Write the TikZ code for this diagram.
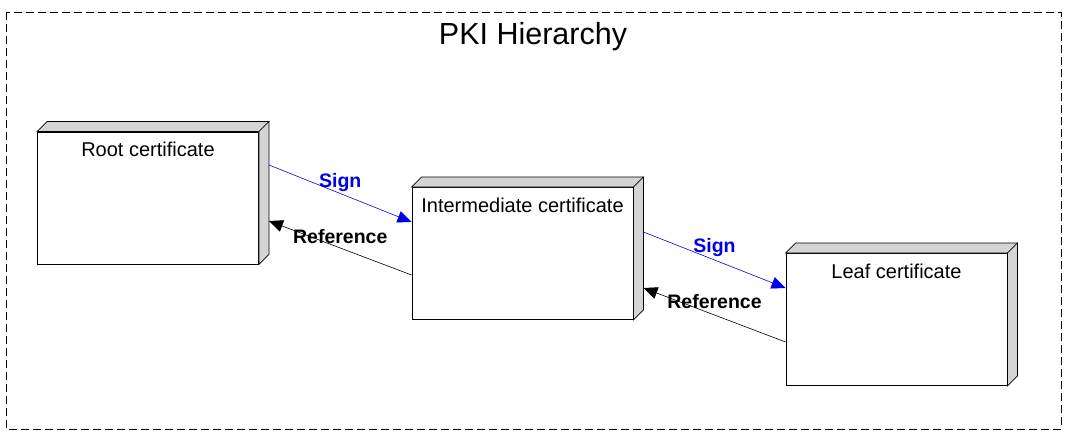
\documentclass[tikz,border=0pt]{standalone}
\usepackage{fontspec}
\setmainfont{Liberation Sans}
\usetikzlibrary{arrows.meta,calc}
\definecolor{sidegray}{RGB}{212,212,212}
\definecolor{signblue}{RGB}{0,0,230}

\begin{document}
\begin{tikzpicture}[x=1pt, y=-1pt,
    cert/.style={rectangle, draw, fill=white, line width=0.9pt, minimum width=221pt, minimum height=132pt, inner sep=0pt},
    face/.style={draw, fill=sidegray, line width=0.6pt},
    sign/.style={-{Triangle[length=14pt,width=12pt]}, signblue, line width=0.6pt},
    refer/.style={-{Triangle[length=14pt,width=12pt]}, black, line width=0.6pt},
    lbl/.style={font=\fontsize{19.5}{22}\selectfont\bfseries},
]
    \useasboundingbox (0,0) rectangle (1071,435);
    \draw[dash pattern=on 8pt off 4pt, line width=0.8pt] (6,12) rectangle (1061,429);
    \node[font=\fontsize{30.5}{36}\selectfont] (title) at (533,37) {PKI Hierarchy};

    % certificate boxes
    \node[cert, label={[anchor=north, yshift=-7pt, font=\fontsize{20}{24}\selectfont]north:Root certificate}] (root) at (148,198) {};
    \node[cert, label={[anchor=north, yshift=-7pt, font=\fontsize{20}{24}\selectfont]north:Intermediate certificate}] (inter) at (522.5,253.5) {};
    \node[cert, label={[anchor=north, yshift=-7pt, font=\fontsize{20}{24}\selectfont]north:Leaf certificate}] (leaf) at (896.5,319.5) {};

    % 3d sides
    \foreach \n in {root,inter,leaf} {
        \draw[face] (\n.north west) -- ++(10,-10) -- ($(\n.north east)+(10,-10)$) -- (\n.north east) -- cycle;
        \draw[face] (\n.north east) -- ++(10,-10) -- ($(\n.south east)+(10,-10)$) -- (\n.south east) -- cycle;
    }

    % connectors
    \draw[sign] ($(root.east)+(10,-33)$) -- ($(inter.west)+(0,-31.5)$)
        node[midway, lbl, text=signblue, yshift=11pt] {Sign};
    \draw[refer] ($(inter.west)+(0,21.5)$) -- ($(root.east)+(10,23)$)
        node[midway, lbl, yshift=11pt] {Reference};
    \draw[sign] ($(inter.east)+(10,-21.5)$) -- ($(leaf.west)+(0,-31.5)$)
        node[midway, lbl, text=signblue, yshift=12pt] {Sign};
    \draw[refer] ($(leaf.west)+(0,22.5)$) -- ($(inter.east)+(10,34.5)$)
        node[midway, lbl, yshift=13pt] {Reference};
\end{tikzpicture}
\end{document}
